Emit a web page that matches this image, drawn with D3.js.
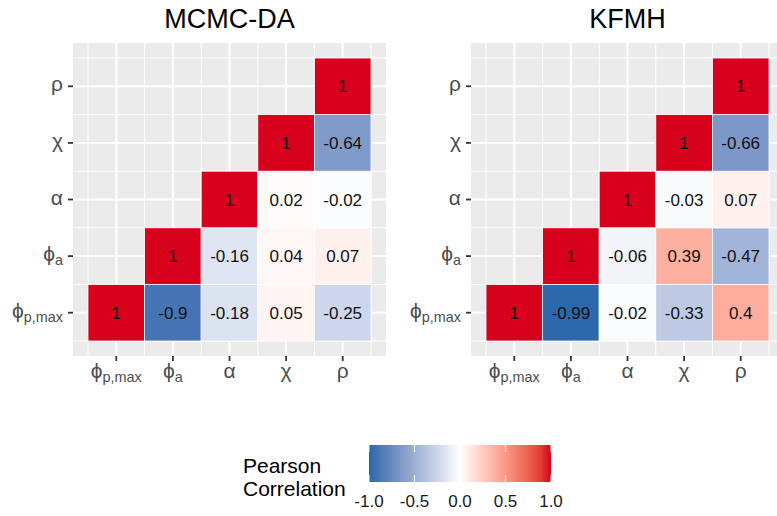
<!DOCTYPE html>
<html>
<head>
<meta charset="utf-8">
<script src="https://cdn.jsdelivr.net/npm/d3@7"></script>
<style>
  html, body { margin: 0; padding: 0; background: #ffffff; }
  svg { display: block; font-family: "Liberation Sans", Arial, "DejaVu Sans", sans-serif; }
</style>
</head>
<body>
<svg id="chart" width="777" height="516"></svg>
<script>
// Variables shown on both axes (bottom-to-top on y, left-to-right on x)
const variables = ["phi_pmax", "phi_a", "alpha", "chi", "rho"];
const varLabels = [
  { base: "ϕ", sub: "p,max" },
  { base: "ϕ", sub: "a" },
  { base: "α", sub: "" },
  { base: "χ", sub: "" },
  { base: "ρ", sub: "" }
];

// Upper-triangle correlations, one row per variable, starting at the diagonal
const mcmcValues = [
  [1, -0.9, -0.18, 0.05, -0.25],
  [1, -0.16, 0.04, 0.07],
  [1, 0.02, -0.02],
  [1, -0.64],
  [1]
];
const kfmhValues = [
  [1, -0.99, -0.02, -0.33, 0.4],
  [1, -0.06, 0.39, -0.47],
  [1, -0.03, 0.07],
  [1, -0.66],
  [1]
];
const panelTitles = ["MCMC-DA", "KFMH"];
const legendTicks = [-1, -0.5, 0, 0.5, 1];

const svg = d3.select("#chart");
const panelSize = 313;
const panelTop = 43;
const panelLefts = [73, 471];

const fill = d3.scaleLinear()
  .domain([-1, 0, 1])
  .range(["#2A66AB", "#FFFFFF", "#D7001D"])
  .interpolate(d3.interpolateLab);

function fmt(v) {
  return String(+v.toFixed(2));
}

function toCells(values) {
  const cells = [];
  values.forEach((row, i) => {
    row.forEach((v, k) => {
      cells.push({ row: variables[i], col: variables[i + k], value: v });
    });
  });
  return cells;
}

// greek symbol with optional subscript
function drawLabel(sel, d) {
  sel.append("tspan").attr("font-size", 21).text(d.base);
  if (d.sub) {
    sel.append("tspan").attr("dy", 4).attr("font-size", 14.4).text(d.sub);
  }
}

[mcmcValues, kfmhValues].forEach((values, p) => {
  const left = panelLefts[p];
  const g = svg.append("g");

  const x = d3.scaleBand().domain(variables)
    .range([left, left + panelSize]).paddingInner(0).paddingOuter(0.265);
  const y = d3.scaleBand().domain(variables.slice().reverse())
    .range([panelTop, panelTop + panelSize]).paddingInner(0).paddingOuter(0.265);

  // panel background
  g.append("rect")
    .attr("x", left).attr("y", panelTop)
    .attr("width", panelSize).attr("height", panelSize)
    .attr("fill", "#EBEBEB");

  // minor grid at band edges
  const edgesX = variables.map(v => x(v)).concat([x(variables[4]) + x.bandwidth()]);
  const edgesY = variables.map(v => y(v)).concat([y(variables[0]) + y.bandwidth()]);
  g.selectAll(".minor-x").data(edgesX).join("line")
    .attr("x1", d => d).attr("x2", d => d)
    .attr("y1", panelTop).attr("y2", panelTop + panelSize)
    .attr("stroke", "#fff").attr("stroke-width", 1);
  g.selectAll(".minor-y").data(edgesY).join("line")
    .attr("y1", d => d).attr("y2", d => d)
    .attr("x1", left).attr("x2", left + panelSize)
    .attr("stroke", "#fff").attr("stroke-width", 1);
  // major grid at band centres
  g.selectAll(".major-x").data(variables).join("line")
    .attr("x1", d => x(d) + x.bandwidth() / 2).attr("x2", d => x(d) + x.bandwidth() / 2)
    .attr("y1", panelTop).attr("y2", panelTop + panelSize)
    .attr("stroke", "#fff").attr("stroke-width", 2);
  g.selectAll(".major-y").data(variables).join("line")
    .attr("y1", d => y(d) + y.bandwidth() / 2).attr("y2", d => y(d) + y.bandwidth() / 2)
    .attr("x1", left).attr("x2", left + panelSize)
    .attr("stroke", "#fff").attr("stroke-width", 2);

  // tiles
  const cells = toCells(values);
  g.selectAll(".tile").data(cells).join("rect")
    .attr("x", d => x(d.col)).attr("y", d => y(d.row))
    .attr("width", x.bandwidth()).attr("height", y.bandwidth())
    .attr("fill", d => fill(d.value))
    .attr("stroke", "#fff").attr("stroke-width", 0.8);

  g.selectAll(".lab").data(cells).join("text")
    .attr("x", d => x(d.col) + x.bandwidth() / 2)
    .attr("y", d => y(d.row) + y.bandwidth() / 2 + 6)
    .attr("text-anchor", "middle")
    .attr("font-size", 17)
    .attr("fill", "#111")
    .text(d => fmt(d.value));

  // y axis ticks and labels
  variables.forEach((v, i) => {
    const cy = y(v) + y.bandwidth() / 2;
    g.append("line").attr("x1", left - 5).attr("x2", left)
      .attr("y1", cy).attr("y2", cy).attr("stroke", "#333").attr("stroke-width", 1.8);
    const t = g.append("text").attr("x", left - 10).attr("y", cy + 5)
      .attr("text-anchor", "end").attr("fill", "#4D4D4D");
    drawLabel(t, varLabels[i]);
  });

  // x axis ticks and labels
  variables.forEach((v, i) => {
    const cx = x(v) + x.bandwidth() / 2;
    const base = panelTop + panelSize;
    g.append("line").attr("x1", cx).attr("x2", cx)
      .attr("y1", base).attr("y2", base + 5).attr("stroke", "#333").attr("stroke-width", 1.8);
    const t = g.append("text").attr("x", cx).attr("y", base + 22)
      .attr("text-anchor", "middle").attr("fill", "#4D4D4D");
    drawLabel(t, varLabels[i]);
  });

  // title
  svg.append("text")
    .attr("x", left + panelSize / 2).attr("y", 28)
    .attr("text-anchor", "middle").attr("font-size", 27).attr("fill", "#000")
    .text(panelTitles[p]);
});

// colour bar legend
const lg = svg.append("g");
const lx = d3.scaleLinear().domain([-1, 1]).range([369, 551]);
const barTop = 445, barH = 37;
const defs = svg.append("defs");
const grad = defs.append("linearGradient").attr("id", "corrGrad");
d3.range(0, 1.0001, 0.05).forEach(t => {
  grad.append("stop").attr("offset", t).attr("stop-color", fill(-1 + 2 * t));
});
lg.append("rect").attr("x", lx(-1)).attr("y", barTop)
  .attr("width", lx(1) - lx(-1)).attr("height", barH).attr("fill", "url(#corrGrad)");
legendTicks.forEach(v => {
  lg.append("line").attr("x1", lx(v)).attr("x2", lx(v))
    .attr("y1", barTop).attr("y2", barTop + 7).attr("stroke", "#fff").attr("stroke-width", 1);
  lg.append("line").attr("x1", lx(v)).attr("x2", lx(v))
    .attr("y1", barTop + barH - 7).attr("y2", barTop + barH).attr("stroke", "#fff").attr("stroke-width", 1);
  lg.append("text").attr("x", lx(v)).attr("y", 507)
    .attr("text-anchor", "middle").attr("font-size", 17).attr("fill", "#1A1A1A")
    .text(d3.format(".1f")(v).replace("−", "-"));
});
lg.append("text").attr("x", 243).attr("y", 473).attr("font-size", 21).attr("fill", "#000").text("Pearson");
lg.append("text").attr("x", 243).attr("y", 496).attr("font-size", 21).attr("fill", "#000").text("Correlation");
</script>
</body>
</html>
